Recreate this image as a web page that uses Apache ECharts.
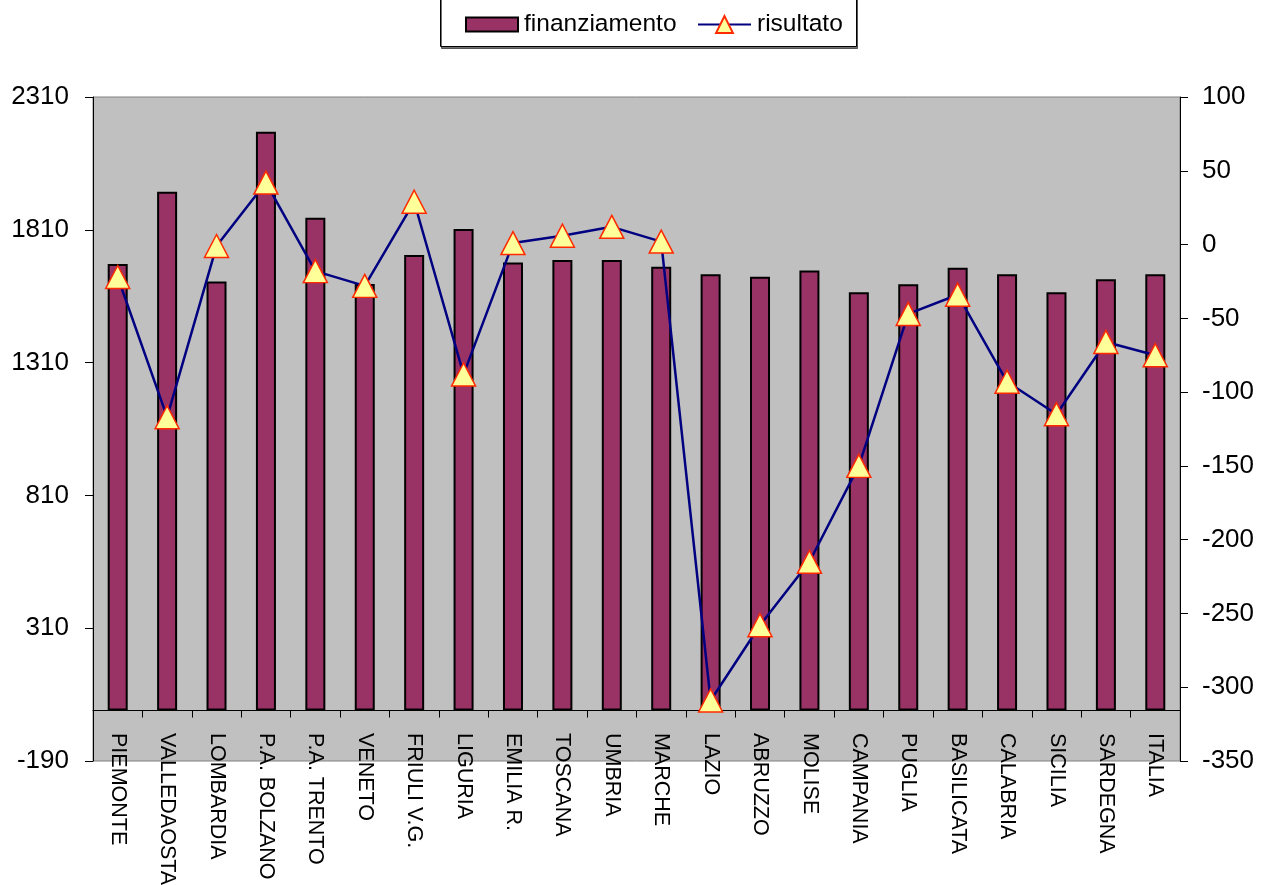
<!DOCTYPE html>
<html>
<head>
<meta charset="utf-8">
<script src="https://cdn.jsdelivr.net/npm/echarts@6/dist/echarts.min.js"></script>
<style>
html,body{margin:0;padding:0;background:#fff;}
#c{width:1263px;height:885px;}
</style>
</head>
<body>
<div id="c"></div>
<script>
const categories = ['PIEMONTE','VALLEDAOSTA','LOMBARDIA','P.A. BOLZANO','P.A. TRENTO','VENETO','FRIULI V.G.','LIGURIA','EMILIA R.','TOSCANA','UMBRIA','MARCHE','LAZIO','ABRUZZO','MOLISE','CAMPANIA','PUGLIA','BASILICATA','CALABRIA','SICILIA','SARDEGNA','ITALIA'];
const finanziamento = [1681,1953,1615,2179,1855,1606,1715,1813,1687,1696,1696,1671,1643,1633,1657,1575,1605,1667,1643,1575,1624,1643];
const risultato = [-22,-117,-1,42,-18,-28,29,-88,1,6,12,2,-309,-258,-215,-150,-47,-34,-93,-115,-66,-75];
const leftTicks = {min:-190, max:2310, step:500};
const rightTicks = {min:-350, max:100, step:50};

const font = 'Liberation Sans, Arial, sans-serif';
const legendText = {fontSize:24.5, color:'#000', fontFamily:font, padding:[0,0,0,1]};
const chart = echarts.init(document.getElementById('c'));
chart.setOption({
  animation:false,
  textStyle:{fontFamily:font},
  graphic:[{
    type:'rect', left:440, top:-10, z:-1,
    shape:{x:0, y:0, width:416, height:56},
    style:{fill:'#fff', stroke:'#000', lineWidth:1, shadowColor:'rgba(0,0,0,0.55)', shadowOffsetX:1, shadowOffsetY:2, shadowBlur:0}
  }],
  legend:[
    {
      left:465, top:12, padding:0,
      itemWidth:52, itemHeight:14, itemGap:0,
      textStyle:legendText,
      data:[{name:'finanziamento', icon:'rect'}]
    },
    {
      left:697, top:12, padding:0,
      itemWidth:53, itemHeight:21, itemGap:0,
      textStyle:legendText,
      data:[{name:'risultato'}]
    }
  ],
  grid:{
    left:93, right:83, top:97, bottom:124,
    outerBoundsMode:'none', containLabel:false,
    show:true, backgroundColor:'#c0c0c0', borderColor:'#808080', borderWidth:1
  },
  xAxis:{
    type:'category', data:categories, boundaryGap:true,
    axisLine:{onZero:true, onZeroAxisIndex:0, lineStyle:{color:'#000', width:1}},
    axisTick:{show:true, alignWithLabel:false, length:7, lineStyle:{color:'#000'}},
    axisLabel:{rotate:-90, margin:-28, fontSize:21.5, color:'#000', fontFamily:font, interval:0},
    splitLine:{show:false}
  },
  yAxis:[
    {
      type:'value', position:'left', min:leftTicks.min, max:leftTicks.max, interval:leftTicks.step,
      axisLine:{show:true, lineStyle:{color:'#000'}},
      axisTick:{show:true, length:8, lineStyle:{color:'#000'}},
      axisLabel:{fontSize:26, color:'#000', margin:24, fontFamily:font, formatter:v=>String(v)},
      splitLine:{show:false}
    },
    {
      type:'value', position:'right', min:rightTicks.min, max:rightTicks.max, interval:rightTicks.step,
      axisLine:{show:true, lineStyle:{color:'#000'}},
      axisTick:{show:true, length:8, lineStyle:{color:'#000'}},
      axisLabel:{fontSize:26, color:'#000', margin:22, fontFamily:font, formatter:v=>String(v)},
      splitLine:{show:false}
    }
  ],
  series:[
    {
      name:'finanziamento', type:'bar', yAxisIndex:0, data:finanziamento,
      barWidth:20,
      itemStyle:{color:'#993366', borderColor:'#000', borderWidth:2}
    },
    {
      name:'risultato', type:'line', yAxisIndex:1, data:risultato,
      symbol:'triangle', symbolSize:[24,23], showSymbol:true,
      lineStyle:{color:'#000080', width:2.5},
      itemStyle:{color:'#ffff99', borderColor:'#ff2a00', borderWidth:1.5},
      z:5
    }
  ]
});
</script>
</body>
</html>
